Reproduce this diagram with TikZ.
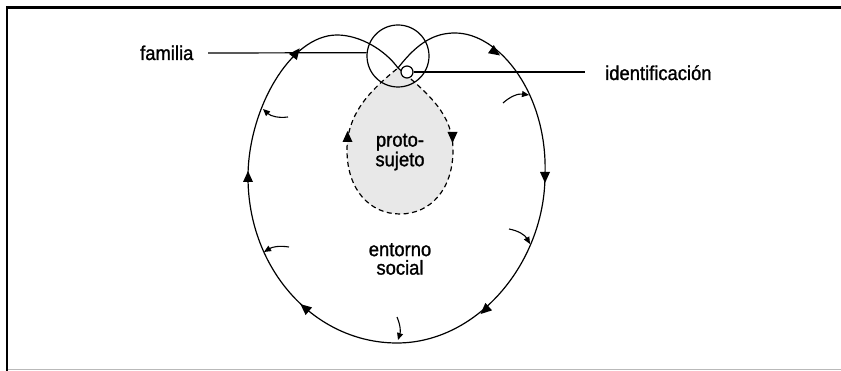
\documentclass[tikz,border=0pt]{standalone}
\usepackage{fontspec}
\setmainfont{Liberation Sans}[FakeStretch=0.92,FakeBold=1.2]
\usetikzlibrary{arrows.meta}
\tikzset{
  curve/.style={line width=1.2pt, black},
  dash region/.style={line width=1.2pt, dash pattern=on 5pt off 3.5pt, fill=gray!18},
  smallarrow/.style={line width=1.1pt, -{Triangle[length=7pt,width=6pt]}},
  lbl/.style={inner sep=0pt, font=\fontsize{20}{18.5}\selectfont},
  tri/.pic={\fill (6,0) -- (-5,5) -- (-5,-5) -- cycle;}
}
\begin{document}
\begin{tikzpicture}[x=1pt,y=-1pt]
\useasboundingbox (0,0) rectangle (841,371);
% frame
\draw[line width=1.5pt, gray!55] (7,369.5) -- (841,369.5);
\draw[line width=2.5pt, black] (7,371) -- (7,7.5) -- (841,7.5);

% proto-sujeto region
\coordinate (C) at (398,68);
\filldraw[dash region] (C) .. controls (430,95) and (453,115) .. (453,150)
  .. controls (453,190) and (430,214) .. (400,214)
  .. controls (370,214) and (347,190) .. (347,150)
  .. controls (347,115) and (368,92) .. (C);

% familia circle
\node[draw, circle, line width=1.2pt, minimum size=62pt, inner sep=0pt] (famc) at (398,56) {};

% outer loop
\coordinate (pr) at (455,33);
\coordinate (rr) at (545,175);
\coordinate (bb) at (397,343);
\coordinate (ll) at (248,177);
\coordinate (pl) at (337,35);
\draw[curve] (C) .. controls (418,42) and (435,33) .. (pr)
  .. controls (500,33) and (548,95) .. (rr)
  .. controls (545,262) and (478,343) .. (bb)
  .. controls (315,343) and (248,270) .. (ll)
  .. controls (248,110) and (290,35) .. (pl)
  .. controls (360,35) and (385,50) .. (C);

% identificacion circle
\node[draw, circle, fill=white, line width=1.2pt, minimum size=12pt, inner sep=0pt] (idc) at (407,72) {};

% arrowheads on outer loop
\pic[rotate=52] at (296,53) {tri};
\pic[rotate=-35] at (495,52) {tri};
\pic[rotate=-90] at (545,177) {tri};
\pic[rotate=-138] at (485,310) {tri};
\pic[rotate=140] at (305,308) {tri};
\pic[rotate=90] at (248,177) {tri};
% arrowheads on dashed region
\pic[rotate=90] at (347.5,137) {tri};
\pic[rotate=-90] at (452.5,137) {tri};

% small arrows
\coordinate (a1s) at (288,117); \coordinate (a1e) at (263,109);
\coordinate (a2s) at (289,247); \coordinate (a2e) at (264,252);
\coordinate (a3s) at (503,103); \coordinate (a3e) at (529,95);
\coordinate (a4s) at (509,229); \coordinate (a4e) at (530,244);
\coordinate (a5s) at (397,317); \coordinate (a5e) at (398,340);
\draw[smallarrow] (a1s) to[bend left=25] (a1e);
\draw[smallarrow] (a2s) to[bend right=20] (a2e);
\draw[smallarrow] (a3s) to[bend left=25] (a3e);
\draw[smallarrow] (a4s) to[bend left=25] (a4e);
\draw[smallarrow] (a5s) to[bend left=20] (a5e);

% labels
\node[lbl, anchor=base west] (fam) at (140,60) {familia};
\node[lbl, anchor=base west] (ident) at (605,80) {identificación};
\node[lbl, align=center, anchor=center] (proto) at (400,152) {proto-\\sujeto};
\node[lbl, align=center, anchor=center] (entorno) at (400,259) {entorno\\social};

\coordinate (fl) at (208,53);
\coordinate (il) at (585,72);
\draw[line width=1.2pt] (fl) -- (famc.174);
\draw[line width=1.2pt] (idc.east) -- (il);
\end{tikzpicture}
\end{document}
